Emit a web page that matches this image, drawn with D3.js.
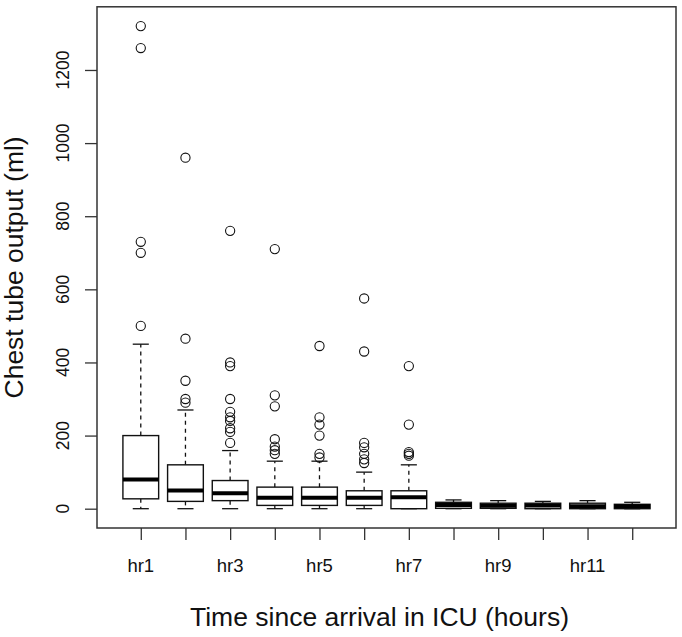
<!DOCTYPE html>
<html>
<head>
<meta charset="utf-8">
<script src="https://cdn.jsdelivr.net/npm/d3@7"></script>
<style>
  html, body { margin: 0; padding: 0; background: #fff; }
  svg { display: block; font-family: "Liberation Sans", Arial, Helvetica, sans-serif; }
</style>
</head>
<body>
<svg id="chart" width="682" height="637"></svg>
<script>
// ---- data ----
const categories = ["hr1","hr2","hr3","hr4","hr5","hr6","hr7","hr8","hr9","hr10","hr11","hr12"];
const whiskerLow  = [0, 0, 0, 0, 0, 0, 0, 0, 0, 0, 0, 0];
const q1          = [27, 20, 22, 9, 9, 9, 0, 1, 1, 0, 0, 0];
const medians     = [80, 50, 42, 30, 30, 30, 31, 10, 8, 9, 7, 7];
const q3          = [200, 120, 77, 59, 59, 49, 49, 17.5, 15, 15, 15, 12];
const whiskerHigh = [450, 270, 159, 130, 130, 100, 120, 24, 22, 20, 22, 17.5];
const outliers = [
  [500, 700, 730, 1260, 1320],
  [290, 300, 350, 465, 960],
  [180, 210, 220, 240, 250, 265, 300, 390, 400, 760],
  [150, 160, 170, 190, 280, 310, 710],
  [140, 150, 200, 230, 250, 445],
  [125, 135, 150, 168, 180, 430, 575],
  [145, 150, 155, 230, 390],
  [], [], [], [], []
];
const yTicks = [0, 200, 400, 600, 800, 1000, 1200];
const xLabel = "Time since arrival in ICU (hours)";
const yLabel = "Chest tube output (ml)";

// ---- layout ----
const svg = d3.select("#chart");
const plot = { left: 97, right: 676, top: 6.8, bottom: 528 };
const n = categories.length;
const yMin = 0, yMax = 1320;
const yPad = (yMax - yMin) * 0.04;
const x = d3.scaleLinear().domain([0.5 - n * 0.04, n + 0.5 + n * 0.04]).range([plot.left, plot.right]);
const y = d3.scaleLinear().domain([yMin - yPad, yMax + yPad]).range([plot.bottom, plot.top]);
const unit = x(2) - x(1);
const boxW = unit * 0.8;
const capW = boxW * 0.45;
const ink = "#111";

const idx = d3.range(n);

// whiskers (dashed)
const g = svg.append("g");
g.selectAll("line.wu").data(idx).join("line")
  .attr("x1", i => x(i + 1)).attr("x2", i => x(i + 1))
  .attr("y1", i => y(q3[i])).attr("y2", i => y(whiskerHigh[i]))
  .attr("stroke", ink).attr("stroke-width", 1.3).attr("stroke-dasharray", "4,4");
g.selectAll("line.wl").data(idx.filter(i => q1[i] > whiskerLow[i])).join("line")
  .attr("x1", i => x(i + 1)).attr("x2", i => x(i + 1))
  .attr("y1", i => y(q1[i])).attr("y2", i => y(whiskerLow[i]))
  .attr("stroke", ink).attr("stroke-width", 1.3).attr("stroke-dasharray", "4,4");
// caps
g.selectAll("line.cu").data(idx).join("line")
  .attr("x1", i => x(i + 1) - capW / 2).attr("x2", i => x(i + 1) + capW / 2)
  .attr("y1", i => y(whiskerHigh[i])).attr("y2", i => y(whiskerHigh[i]))
  .attr("stroke", ink).attr("stroke-width", 1.3);
g.selectAll("line.cl").data(idx).join("line")
  .attr("x1", i => x(i + 1) - capW / 2).attr("x2", i => x(i + 1) + capW / 2)
  .attr("y1", i => y(whiskerLow[i])).attr("y2", i => y(whiskerLow[i]))
  .attr("stroke", ink).attr("stroke-width", 1.3);
// boxes
g.selectAll("rect.box").data(idx).join("rect")
  .attr("x", i => x(i + 1) - boxW / 2).attr("width", boxW)
  .attr("y", i => y(q3[i])).attr("height", i => y(q1[i]) - y(q3[i]))
  .attr("fill", "#fff").attr("stroke", ink).attr("stroke-width", 1.4);
// medians
g.selectAll("line.med").data(idx).join("line")
  .attr("x1", i => x(i + 1) - boxW / 2).attr("x2", i => x(i + 1) + boxW / 2)
  .attr("y1", i => y(medians[i])).attr("y2", i => y(medians[i]))
  .attr("stroke", "#000").attr("stroke-width", 4);
// outliers
const pts = [];
outliers.forEach((arr, i) => arr.forEach(v => pts.push({ i, v })));
g.selectAll("circle.out").data(pts).join("circle")
  .attr("cx", d => x(d.i + 1)).attr("cy", d => y(d.v)).attr("r", 4.6)
  .attr("fill", "none").attr("stroke", ink).attr("stroke-width", 1.1);

// frame
svg.append("rect")
  .attr("x", plot.left).attr("y", plot.top)
  .attr("width", plot.right - plot.left).attr("height", plot.bottom - plot.top)
  .attr("fill", "none").attr("stroke", "#333").attr("stroke-width", 1.5);

// x axis
const xAxis = d3.axisBottom(x).tickValues(idx.map(i => i + 1)).tickSize(12).tickSizeOuter(0)
  .tickFormat(() => "");
const gx = svg.append("g").attr("transform", `translate(0,${plot.bottom})`).call(xAxis);
gx.select(".domain").remove();
gx.selectAll(".tick line").attr("stroke", "#333").attr("stroke-width", 1.3);
svg.append("g").selectAll("text").data(idx.filter(i => i % 2 === 0)).join("text")
  .attr("x", i => x(i + 1)).attr("y", 572.3)
  .attr("text-anchor", "middle").attr("font-size", 18.5).attr("fill", "#111")
  .text(i => categories[i]);

// y axis
const yAxis = d3.axisLeft(y).tickValues(yTicks).tickSize(12).tickSizeOuter(0).tickFormat(() => "");
const gy = svg.append("g").attr("transform", `translate(${plot.left},0)`).call(yAxis);
gy.select(".domain").remove();
gy.selectAll(".tick line").attr("stroke", "#333").attr("stroke-width", 1.3);
svg.append("g").selectAll("text").data(yTicks).join("text")
  .attr("transform", d => `translate(69,${y(d)}) rotate(-90)`)
  .attr("text-anchor", "middle").attr("font-size", 17.5).attr("fill", "#111")
  .text(d => d);

// titles
svg.append("text").attr("x", 379.5).attr("y", 626)
  .attr("text-anchor", "middle").attr("font-size", 26.5).attr("fill", "#111")
  .text(xLabel);
svg.append("text").attr("transform", `translate(22.5,${(plot.top + plot.bottom) / 2}) rotate(-90)`)
  .attr("text-anchor", "middle").attr("font-size", 26.5).attr("fill", "#111")
  .text(yLabel);
</script>
</body>
</html>
